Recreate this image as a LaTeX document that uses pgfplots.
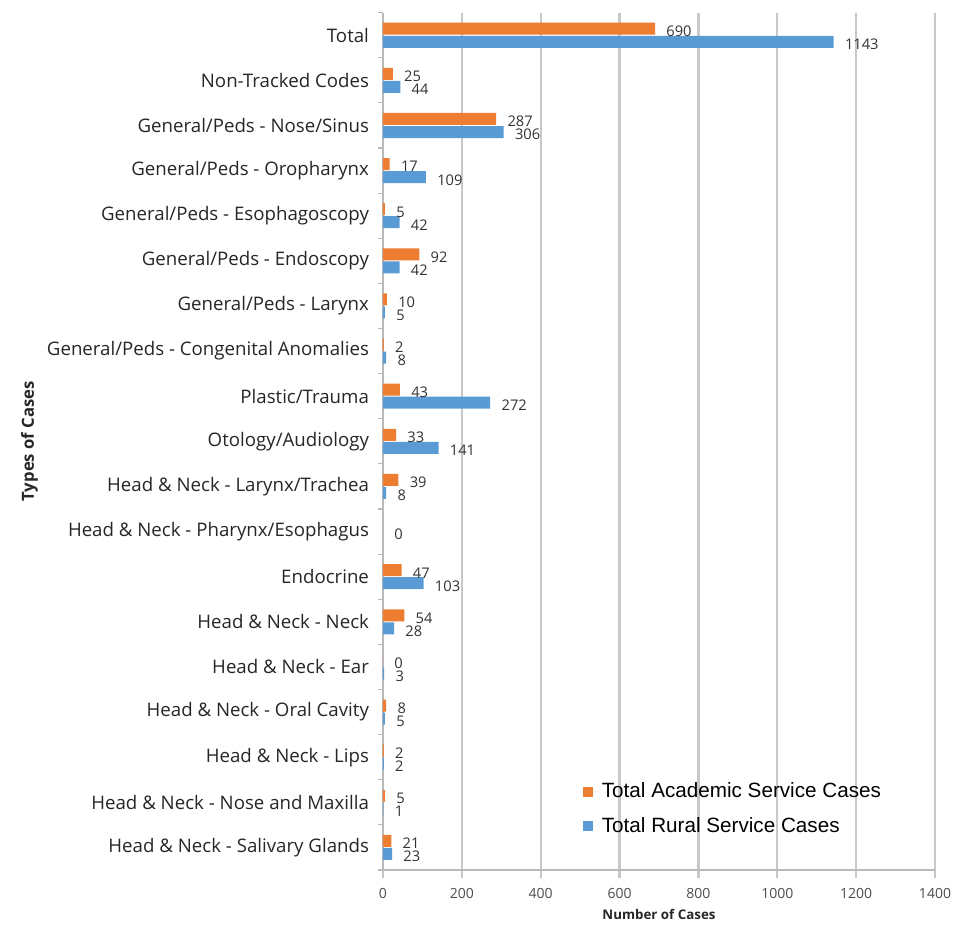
\documentclass[border=0pt]{standalone}
\usepackage{pgfplots}
\pgfplotsset{compat=1.18}
\usepackage{fontspec}
\setmainfont{Open Sans}
\newfontfamily\legfont{Liberation Sans}
\definecolor{acad}{HTML}{ED7D31}
\definecolor{rural}{HTML}{5B9BD5}
\definecolor{gridc}{HTML}{C8C8C8}

\begin{document}
\begin{tikzpicture}
\begin{axis}[
    name=main,
    scale only axis,
    width=414pt, height=643pt,
    xbar, bar width=9pt,
    xmin=0, xmax=1400,
    ymin=-0.5, ymax=18.5,
    xtick={0,200,...,1400},
    ytick={0,...,18},
    yticklabels={
        Head \& Neck - Salivary Glands,
        Head \& Neck - Nose and Maxilla,
        Head \& Neck - Lips,
        Head \& Neck - Oral Cavity,
        Head \& Neck - Ear,
        Head \& Neck - Neck,
        Endocrine,
        Head \& Neck - Pharynx/Esophagus,
        Head \& Neck - Larynx/Trachea,
        Otology/Audiology,
        Plastic/Trauma,
        General/Peds - Congenital Anomalies,
        General/Peds - Larynx,
        General/Peds - Endoscopy,
        General/Peds - Esophagoscopy,
        General/Peds - Oropharynx,
        General/Peds - Nose/Sinus,
        Non-Tracked Codes,
        Total},
    minor ytick={-0.5,0.5,...,18.5},
    axis lines*=left,
    axis line style={gridc!80!gray, line width=0.8pt},
    xmajorgrids,
    major grid style={gridc, line width=1.8pt},
    tick align=outside,
    major tick length=6pt,
    minor tick length=4pt,
    xtick style={gridc, line width=1.8pt},
    ytick style={draw=none},
    minor y tick style={draw=gridc!80!gray, line width=0.8pt},
    tick label style={font=\fontsize{10.5}{12}\selectfont, text=black!70},
    yticklabel style={font=\fontsize{14}{16}\selectfont, text=black!85, xshift=-1pt},
    /pgf/number format/assume math mode=true,
    /pgf/number format/1000 sep={},
    xticklabel style={yshift=-4pt},
    xlabel={\textbf{Number of Cases}},
    ylabel={\textbf{Types of Cases}},
    xlabel style={font=\fontsize{10}{12}\selectfont, text=black!85, yshift=-1pt},
    ylabel style={font=\fontsize{12.5}{14}\selectfont, text=black!85, yshift=0pt},
    nodes near coords,
    nodes near coords style={font=\fontsize{11}{12}\selectfont, text=black!80, anchor=west, xshift=5pt, yshift=-2pt},
    legend style={draw=none, fill=none, at={(0.355,0.108)}, anchor=north west,
        font=\legfont\fontsize{15.5}{18}\selectfont, row sep=9pt},
    legend cell align=left,
    legend image code/.code={\path (0pt,0pt) -- (12pt,0pt);
        \fill[#1] (0pt,-3.8pt) rectangle (7.5pt,3.7pt);},
]
\addplot[draw=none, fill=acad, bar shift=4.9pt] coordinates {
    (21,0) (5,1) (2,2) (8,3) (0,4) (54,5) (47,6) (39,8) (33,9) (43,10)
    (2,11) (10,12) (92,13) (5,14) (17,15) (287,16) (25,17) (690,18)
};
\addlegendentry{Total Academic Service Cases}
\addplot[draw=none, fill=rural, bar shift=-4.9pt] coordinates {
    (23,0) (1,1) (2,2) (5,3) (3,4) (28,5) (103,6) (8,8) (141,9) (272,10)
    (8,11) (5,12) (42,13) (42,14) (109,15) (306,16) (44,17) (1143,18)
};
\addlegendentry{Total Rural Service Cases}
\addplot[draw=none, fill=none, bar shift=0pt, forget plot] coordinates {(0,7)};
\end{axis}
\path ([xshift=-287.25pt, yshift=-51.75pt]main.south west) rectangle ++(724.5pt,704.25pt);
\end{tikzpicture}
\end{document}
